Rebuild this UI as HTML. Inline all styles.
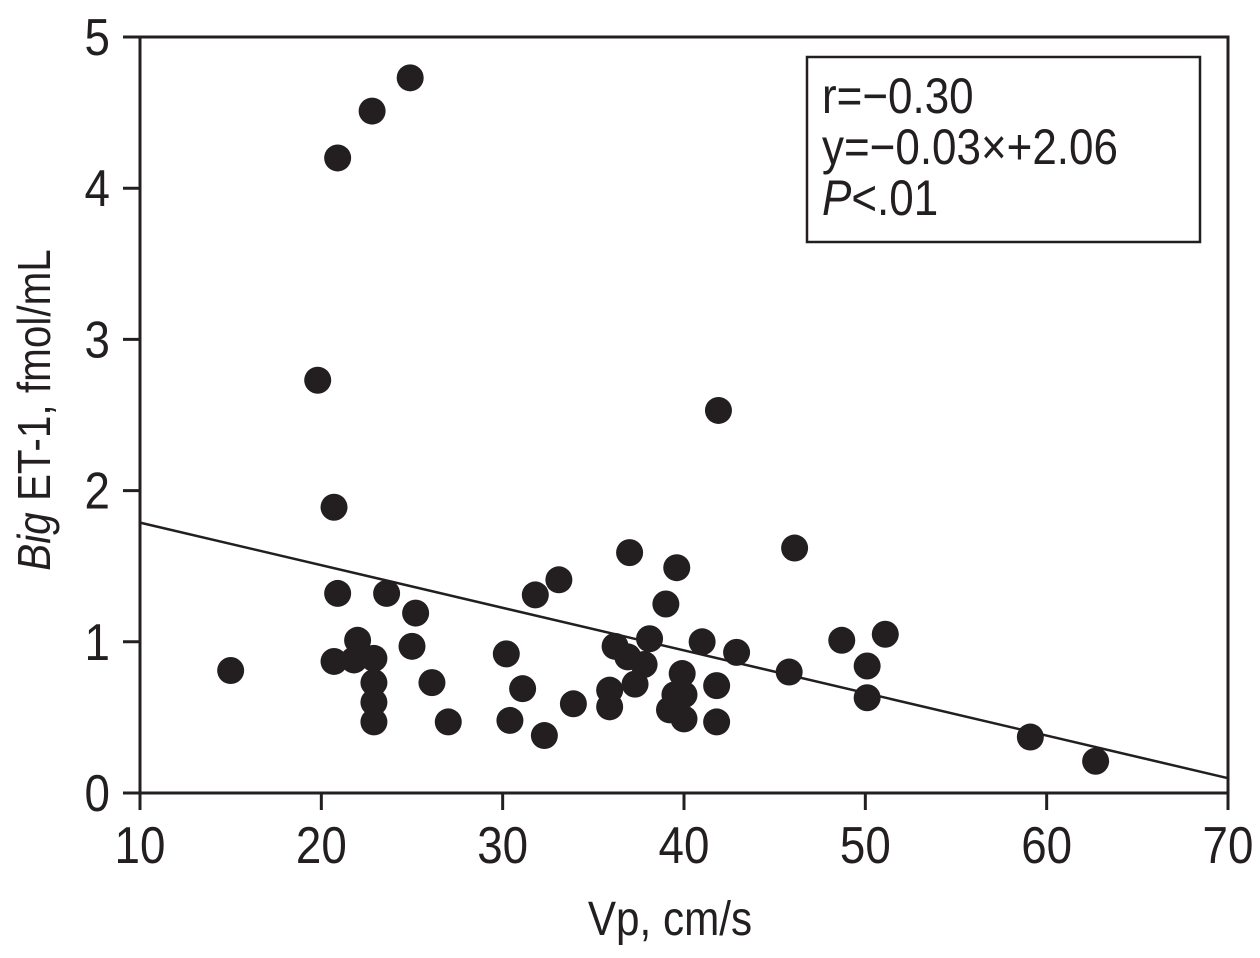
<!DOCTYPE html>
<html><head><meta charset="utf-8"><style>
body{margin:0;background:#fff}
svg text{font-family:"Liberation Sans",sans-serif;fill:#231f20}
</style></head><body>
<svg id="chart" width="1260" height="953" xmlns="http://www.w3.org/2000/svg">
<g id="axes"></g><g id="marks"></g>
<g>
<rect x="807" y="57" width="393" height="185" fill="#fff" stroke="#231f20" stroke-width="2.5"/>
<g transform="translate(822 0) scale(0.88 1)">
<text x="0" y="113" font-size="50">r=−0.30</text>
<text x="0" y="164" font-size="50">y=−0.03×+2.06</text>
<text x="0" y="215" font-size="50"><tspan font-style="italic">P</tspan>&lt;.01</text>
</g>
</g>
<text font-size="48" text-anchor="middle" transform="translate(670 935) scale(0.88 1)">Vp, cm/s</text>
<text font-size="46" text-anchor="middle" transform="translate(50 410) rotate(-90) scale(0.88 1)"><tspan font-style="italic">Big</tspan> ET-1, fmol/mL</text>
</svg>
<script>
const xs=[15,24.9,22.8,20.9,19.8,20.7,41.9,20.9,23.6,25.2,22,25,20.7,21.8,22.9,22.9,22.9,22.9,26.1,27,30.2,30.4,31.1,32.3,33.9,31.8,33.1,37,39.6,39,36.2,36.9,37.8,38.1,37.3,35.9,35.9,39.2,39.5,40,39.9,40,41,41.8,41.8,42.9,45.8,46.1,48.7,50.1,50.1,51.1,59.1,62.7];
const ys=[0.81,4.73,4.51,4.2,2.73,1.89,2.53,1.32,1.32,1.19,1.01,0.97,0.87,0.88,0.89,0.73,0.6,0.47,0.73,0.47,0.92,0.48,0.69,0.38,0.59,1.31,1.41,1.59,1.49,1.25,0.97,0.9,0.85,1.02,0.72,0.68,0.57,0.55,0.65,0.49,0.79,0.65,1.0,0.71,0.47,0.93,0.8,1.62,1.01,0.84,0.63,1.05,0.37,0.21];
const xTicks=[10,20,30,40,50,60,70];
const yTicks=[0,1,2,3,4,5];
const slope=-0.02817, intercept=2.07;
const X=v=>140+(v-10)*(1088/60), Y=v=>793-v*151.2;
const NS='http://www.w3.org/2000/svg';
function mk(t,a,p){const e=document.createElementNS(NS,t);for(const k in a)e.setAttribute(k,a[k]);p.appendChild(e);return e;}
const ax=document.getElementById('axes'),mg=document.getElementById('marks');
const frame=mk('path',{d:`M123 ${Y(5)}H1228V793M140 ${Y(5)}V810M140 793H1228`,fill:'none',stroke:'#231f20','stroke-width':3},ax);


xTicks.forEach(t=>{
 const l=mk('line',{x1:X(t),x2:X(t),y1:793,y2:810,stroke:'#231f20','stroke-width':3},ax);
 
 
 const tx=mk('text',{'font-size':52,'text-anchor':'middle',transform:`translate(${X(t)} 863) scale(0.88 1)`},ax);
 tx.textContent=t;
 
 
});
yTicks.forEach(t=>{
 const l=mk('line',{x1:123,x2:140,y1:Y(t),y2:Y(t),stroke:'#231f20','stroke-width':3},ax);
 
 
 const tx=mk('text',{'font-size':52,'text-anchor':'end',transform:`translate(110 ${Y(t)+18}) scale(0.88 1)`},ax);
 tx.textContent=t;
 
 
});
const rl=mk('line',{x1:X(10),y1:Y(intercept+slope*10),x2:X(70),y2:Y(intercept+slope*70),stroke:'#231f20','stroke-width':2.5},mg);


xs.forEach((x,i)=>{
 const c=mk('circle',{cx:X(x),cy:Y(ys[i]),r:13.5,fill:'#231f20'},mg);
 
 
});
</script>
</body></html>
